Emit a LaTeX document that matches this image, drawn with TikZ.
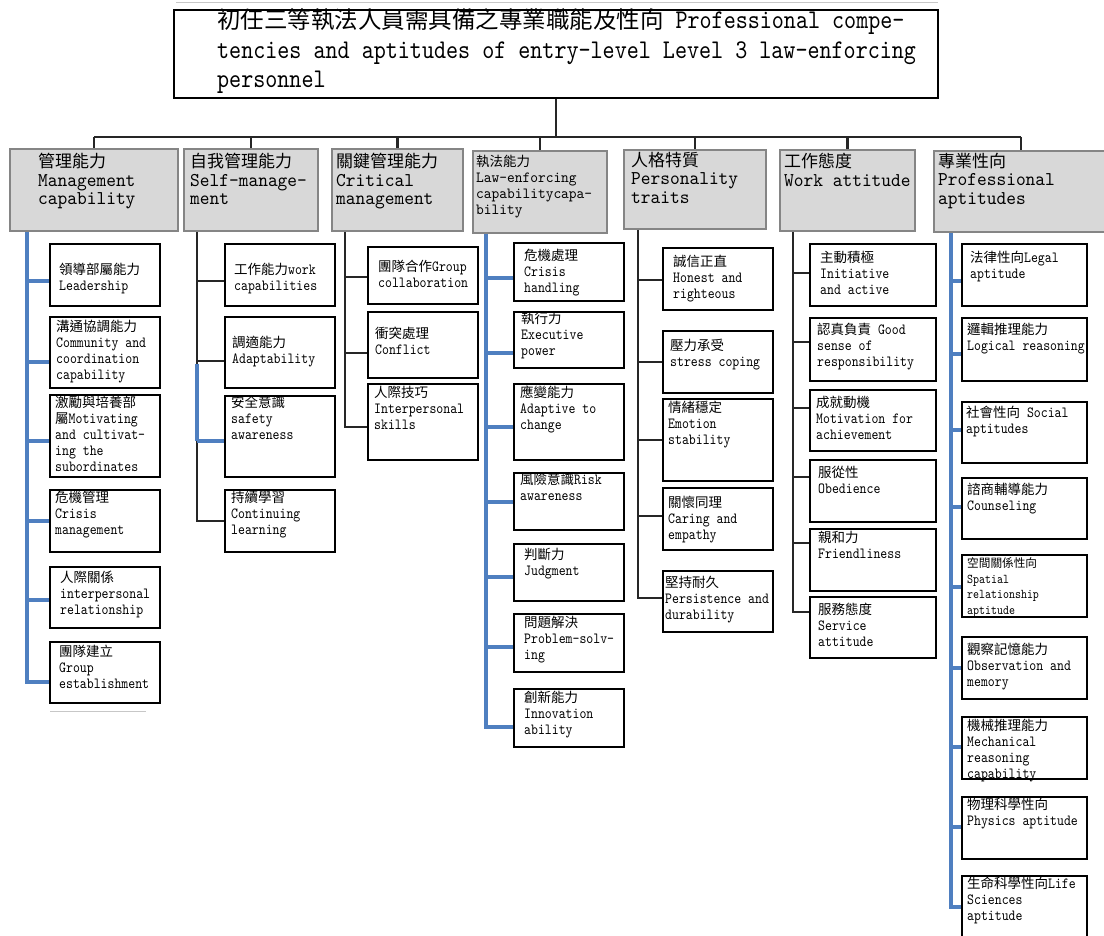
\documentclass[tikz,border=0pt]{standalone}
\usepackage{fontspec}
\newfontfamily\cjkf[Scale=0.87]{Noto Sans CJK TC}
\newfontfamily\mono[FakeStretch=0.85]{lmmono10-regular.otf}
\newfontfamily\monoh[FakeStretch=0.95]{lmmono10-regular.otf}
\newcommand\zh[1]{{\cjkf #1}}
\definecolor{spineblue}{HTML}{4F7FC0}
\definecolor{linedark}{HTML}{262626}
\definecolor{hdrfill}{HTML}{D8D8D8}
\definecolor{hdrborder}{HTML}{858585}
\tikzset{
 cbox/.style={draw=black, line width=1.6pt, fill=white, inner sep=0pt},
 ctext/.style={anchor=north west, inner sep=0pt, align=left, font=\mono\fontsize{15.5}{16}\selectfont},
 hbox/.style={draw=hdrborder, fill=hdrfill, line width=2pt, inner sep=0pt},
 htext/.style={anchor=north west, inner sep=0pt, align=left, font=\monoh\fontsize{19.5}{18.5}\selectfont},
 bk/.style={draw=linedark, line width=2.4pt},
 bl/.style={draw=spineblue, line width=3.2pt},
 faint/.style={draw=black!22, line width=1pt},
}
% name x1 y1 x2 y2 textx texty(center of first line) text
\newcommand\mybox[9][]{%
 \node[cbox, minimum width={#5-#3}, minimum height={#6-#4}] (#2) at ({(#3+#5)/2},{(#4+#6)/2}) {};
 \node[ctext,#1] (#2-t) at (#7,{#8-6.8}) {#9};
}
\newcommand\hdr[5]{% name x1 y1 x2 y2
 \node[hbox, minimum width={#4-#2}, minimum height={#5-#3}] (#1) at ({(#2+#4)/2},{(#3+#5)/2}) {};
}
% style, coord name, x, y, box
\newcommand\stub[5]{%
 \coordinate (#2) at (#3,#4);
 \draw[#1] (#2) -- (#2 -| #5.west);
}
\begin{document}
\begin{tikzpicture}[x=1pt,y=-1pt]
\useasboundingbox (0,0) rectangle (1104,936);
\fill[white] (0,0) rectangle (1104,936);

% faint rules
\draw[faint] (176,3) -- (938,3);
\draw[faint] (50,711) -- (146,711);

% title
\node[draw=black, line width=2pt, fill=white, minimum width=764, minimum height=88, inner sep=0pt] (title) at (556,54) {};
\node[anchor=north west, inner sep=0pt, align=left, font=\mono\fontsize{27}{29.5}\selectfont] (title-t) at (217,8.5)
 {\zh{初任三等執法人員需具備之專業職能及性向} Professional compe-\\tencies and aptitudes of entry-level Level 3 law-enforcing\\personnel};

% headers
\hdr{h1}{10}{149}{178}{231}
\hdr{h2}{184}{149}{318}{231}
\hdr{h3}{332}{149}{463}{231}
\hdr{h4}{473}{151}{607}{233}
\hdr{h5}{624}{150}{766}{229}
\hdr{h6}{780}{150}{915}{231}
\hdr{h7}{934}{151}{1108}{232}

\node[htext] (h1-t) at (38,153) {\zh{管理能力}\\Management\\capability};
\node[htext] (h2-t) at (190,153) {\zh{自我管理能力}\\Self-manage-\\ment};
\node[htext] (h3-t) at (336,153) {\zh{關鍵管理能力}\\Critical\\management};
\node[htext, font=\monoh\fontsize{15.5}{16}\selectfont] (h4-t) at (476,155) {\zh{執法能力}\\Law-enforcing\\capabilitycapa-\\bility};
\node[htext] (h5-t) at (631,152) {\zh{人格特質}\\Personality\\traits};
\node[htext] (h6-t) at (784,153) {\zh{工作態度}\\Work attitude};
\node[htext] (h7-t) at (938,153) {\zh{專業性向}\\Professional\\aptitudes};

% top connectors
\coordinate (bus) at (556,137);
\draw[bk] (title.south) -- (bus);
\draw[bk] (h1.north |- bus) -- (h7.north |- bus);
\foreach \h in {h1,h2,h3,h4,h5,h6,h7} { \draw[bk] (\h.north |- bus) -- (\h.north); }

% ---- Management capability
\mybox{m1}{50}{244}{160}{306}{59}{270}{\zh{領導部屬能力}\\Leadership}
\mybox{m2}{50}{317}{160}{388}{56}{327}{\zh{溝通協調能力}\\Community and\\coordination\\capability}
\mybox{m3}{50}{395}{160}{477}{55}{403}{\zh{激勵與培養部}\\\zh{屬}Motivating\\and cultivat-\\ing the\\subordinates}
\mybox{m4}{50}{490}{160}{552}{55}{498}{\zh{危機管理}\\Crisis\\management}
\mybox{m5}{50}{567}{160}{628}{60}{578}{\zh{人際關係}\\interpersonal\\relationship}
\mybox{m6}{50}{642}{160}{703}{59}{652}{\zh{團隊建立}\\Group\\establishment}
\stub{bl}{k1a}{27}{281}{m1}
\stub{bl}{k1b}{27}{362}{m2}
\stub{bl}{k1c}{27}{441}{m3}
\stub{bl}{k1d}{27}{521}{m4}
\stub{bl}{k1e}{27}{600}{m5}
\stub{bl}{k1f}{27}{682}{m6}
\draw[bl] (h1.south -| k1f) -- (k1f) -- (k1f -| m6.west);

% ---- Self-management
\mybox{s1}{225}{244}{335}{306}{234}{270}{\zh{工作能力}work\\capabilities}
\mybox{s2}{225}{317}{335}{388}{232}{343}{\zh{調適能力}\\Adaptability}
\mybox{s3}{225}{396}{335}{477}{231}{403}{\zh{安全意識}\\safety\\awareness}
\mybox{s4}{225}{490}{335}{552}{231}{498}{\zh{持續學習}\\Continuing\\learning}
\stub{bk}{k2a}{197}{281}{s1}
\stub{bk}{k2b}{197}{361}{s2}
\stub{bk}{k2d}{197}{521}{s4}
\draw[bk] (h2.south -| k2d) -- (k2d) -- (k2d -| s4.west);
\coordinate (k2u) at (197,364);
\coordinate (k2c) at (197,441);
\draw[bl] (k2u) -- (k2c);
\draw[bl] (k2c) -- (k2c -| s3.west);

% ---- Critical management
\mybox{c1}{368}{247}{478}{304}{378}{267}{\zh{團隊合作}Group\\collaboration}
\mybox{c2}{368}{312}{478}{378}{375}{334}{\zh{衝突處理}\\Conflict}
\mybox{c3}{368}{384}{478}{460}{374}{393}{\zh{人際技巧}\\Interpersonal\\skills}
\stub{bk}{k3a}{345}{277}{c1}
\stub{bk}{k3b}{345}{353}{c2}
\stub{bk}{k3c}{345}{427}{c3}
\draw[bk] (h3.south -| k3c) -- (k3c) -- (k3c -| c3.west);

% ---- Law-enforcing capability
\mybox{l1}{514}{243}{624}{301}{524}{256}{\zh{危機處理}\\Crisis\\handling}
\mybox{l2}{514}{312}{624}{368}{521}{319}{\zh{執行力}\\Executive\\power}
\mybox{l3}{514}{384}{624}{460}{520}{393}{\zh{應變能力}\\Adaptive to\\change}
\mybox{l4}{514}{473}{624}{530}{520}{480}{\zh{風險意識}Risk\\awareness}
\mybox{l5}{514}{544}{624}{601}{524}{555}{\zh{判斷力}\\Judgment}
\mybox{l6}{514}{614}{624}{672}{524}{623}{\zh{問題解決}\\Problem-solv-\\ing}
\mybox{l7}{514}{689}{624}{747}{524}{698}{\zh{創新能力}\\Innovation\\ability}
\stub{bl}{k4a}{486}{278}{l1}
\stub{bl}{k4b}{486}{353}{l2}
\stub{bl}{k4c}{486}{427}{l3}
\stub{bl}{k4d}{486}{502}{l4}
\stub{bl}{k4e}{486}{577}{l5}
\stub{bl}{k4f}{486}{647}{l6}
\stub{bl}{k4g}{486}{727}{l7}
\draw[bl] (h4.south -| k4g) -- (k4g) -- (k4g -| l7.west);

% ---- Personality traits
\mybox{p1}{663}{248}{773}{310}{673}{262}{\zh{誠信正直}\\Honest and\\righteous}
\mybox{p2}{663}{331}{773}{393}{670}{346}{\zh{壓力承受}\\stress coping}
\mybox{p3}{663}{399}{773}{481}{668}{408}{\zh{情緒穩定}\\Emotion\\stability}
\mybox{p4}{663}{488}{773}{550}{668}{503}{\zh{關懷同理}\\Caring and\\empathy}
\mybox{p5}{663}{571}{773}{632}{665}{583}{\zh{堅持耐久}\\Persistence and\\durability}
\stub{bk}{k5a}{638}{280}{p1}
\stub{bk}{k5b}{638}{362}{p2}
\stub{bk}{k5c}{638}{440}{p3}
\stub{bk}{k5d}{638}{516}{p4}
\stub{bk}{k5e}{638}{598}{p5}
\draw[bk] (h5.south -| k5e) -- (k5e) -- (k5e -| p5.west);

% ---- Work attitude
\mybox{w1}{810}{244}{936}{306}{820}{258}{\zh{主動積極}\\Initiative\\and active}
\mybox{w2}{810}{318}{936}{381}{817}{330}{\zh{認真負責} Good\\sense of\\responsibility}
\mybox{w3}{810}{390}{936}{451}{816}{403}{\zh{成就動機}\\Motivation for\\achievement}
\mybox{w4}{810}{460}{936}{522}{818}{473}{\zh{服從性}\\Obedience}
\mybox{w5}{810}{529}{936}{591}{818}{538}{\zh{親和力}\\Friendliness}
\mybox{w6}{810}{597}{936}{658}{818}{610}{\zh{服務態度}\\Service\\attitude}
\stub{bk}{k6a}{793}{273}{w1}
\stub{bk}{k6b}{793}{342}{w2}
\stub{bk}{k6c}{793}{408}{w3}
\stub{bk}{k6d}{793}{477}{w4}
\stub{bk}{k6e}{793}{543}{w5}
\stub{bk}{k6f}{793}{612}{w6}
\draw[bk] (h6.south -| k6f) -- (k6f) -- (k6f -| w6.west);

% ---- Professional aptitudes
\mybox{a1}{962}{244}{1087}{306}{970}{258}{\zh{法律性向}Legal\\aptitude}
\mybox{a2}{962}{318}{1087}{381}{967}{330}{\zh{邏輯推理能力}\\Logical reasoning}
\mybox{a3}{962}{402}{1087}{463}{966}{413}{\zh{社會性向} Social\\aptitudes}
\mybox{a4}{962}{478}{1087}{539}{967}{490}{\zh{諮商輔導能力}\\Counseling}
\mybox[font=\mono\fontsize{13.4}{15.7}\selectfont]{a5}{962}{555}{1087}{617}{967}{564}{\zh{空間關係性向}\\Spatial\\relationship\\aptitude}
\mybox{a6}{962}{637}{1087}{699}{967}{650}{\zh{觀察記憶能力}\\Observation and\\memory}
\mybox{a7}{962}{717}{1087}{779}{967}{726}{\zh{機械推理能力}\\Mechanical\\reasoning\\capability}
\mybox{a8}{962}{797}{1087}{859}{967}{805}{\zh{物理科學性向}\\Physics aptitude}
\mybox{a9}{962}{876}{1087}{938}{967}{884}{\zh{生命科學性向}Life\\Sciences\\aptitude}
\stub{bl}{k7a}{951}{281}{a1}
\stub{bl}{k7b}{951}{354}{a2}
\stub{bl}{k7c}{951}{430}{a3}
\stub{bl}{k7d}{951}{507}{a4}
\stub{bl}{k7e}{951}{587}{a5}
\stub{bl}{k7f}{951}{668}{a6}
\stub{bl}{k7g}{951}{747}{a7}
\stub{bl}{k7h}{951}{827}{a8}
\stub{bl}{k7i}{951}{907}{a9}
\draw[bl] (h7.south -| k7i) -- (k7i) -- (k7i -| a9.west);
\end{tikzpicture}
\end{document}
